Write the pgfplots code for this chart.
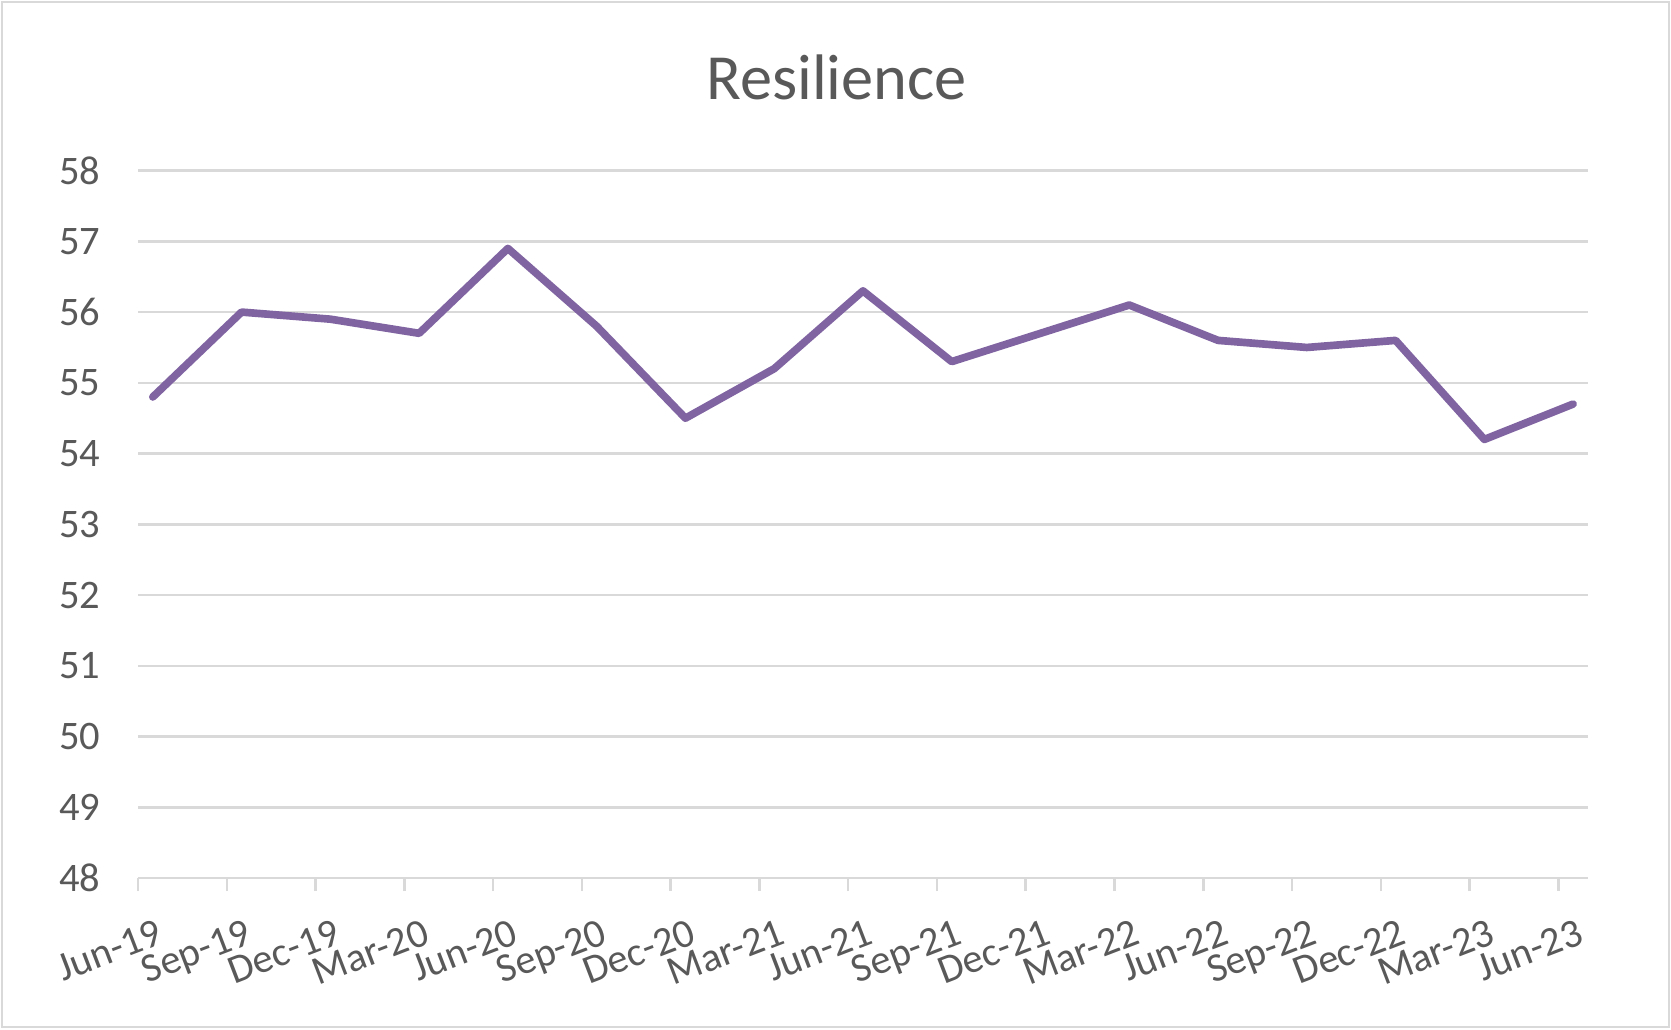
\documentclass[border=0pt]{standalone}
\usepackage{pgfplots}
\pgfplotsset{compat=1.18}
\usepackage{fontspec}
\setmainfont{Carlito}
\definecolor{txt}{HTML}{595959}
\definecolor{grd}{HTML}{D9D9D9}
\definecolor{ln}{HTML}{8064A2}
\begin{document}
\begin{tikzpicture}
\useasboundingbox (0,0) rectangle (371.33pt,228.67pt);
\draw[grd, line width=0.5pt] (0.4pt,0.4pt) rectangle (370.93pt,228.27pt);
\node[txt, font=\fontsize{14.3}{16}\selectfont] at (185.9pt,211.4pt) {Resilience};
\begin{axis}[
  at={(30.67pt,33.56pt)}, anchor=south west,
  scale only axis, width=322.2pt, height=157.2pt,
  xmin=0, xmax=49, ymin=48, ymax=58,
  xtick={0,3,...,48},
  xticklabels={Jun-19,Sep-19,Dec-19,Mar-20,Jun-20,Sep-20,Dec-20,Mar-21,Jun-21,Sep-21,Dec-21,Mar-22,Jun-22,Sep-22,Dec-22,Mar-23,Jun-23},
  ytick={48,49,...,58},
  axis line style={draw=none},
  ymajorgrids, grid style={grd, line width=0.55pt},
  xtick pos=bottom, ytick pos=left,
  tick align=outside, major tick length=2.9pt,
  xtick style={grd, line width=0.55pt},
  ytick style={draw=none},
  ticklabel style={txt, font=\fontsize{9}{11}\selectfont},
  /pgf/number format/assume math mode=true,
  yticklabel style={xshift=-1.9pt},
  xticklabel style={rotate=21, anchor=north east, yshift=-3.5pt, xshift=5pt},
  clip=false,
]
\addplot[ln, line width=1.7pt, line join=round, line cap=round] coordinates {
(0.5,54.8) (3.5,56.0) (6.5,55.9) (9.5,55.7) (12.5,56.9) (15.5,55.8) (18.5,54.5) (21.5,55.2) (24.5,56.3) (27.5,55.3) (30.5,55.7) (33.5,56.1) (36.5,55.6) (39.5,55.5) (42.5,55.6) (45.5,54.2) (48.5,54.7)
};
\end{axis}
\end{tikzpicture}
\end{document}
